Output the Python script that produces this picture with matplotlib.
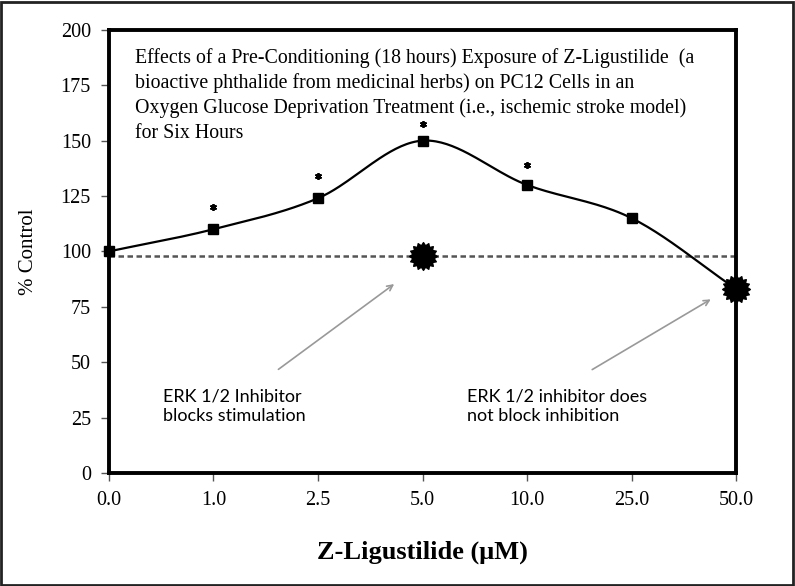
import numpy as np
import matplotlib
matplotlib.use("Agg")
import matplotlib.pyplot as plt
from matplotlib.path import Path

categories = ["0.0", "1.0", "2.5", "5.0", "10.0", "25.0", "50.0"]
control_values = [100, 110, 124, 150, 130, 115, 83]
sig_positions = [1, 2, 3, 4, 6]
sig_values = [120, 134, 157.5, 139, 86]
inhibitor_positions = [3, 6]
inhibitor_values = [98, 83]
baseline = 98
yticks = [0, 25, 50, 75, 100, 125, 150, 175, 200]

title_text = ("Effects of a Pre-Conditioning (18 hours) Exposure of Z-Ligustilide  (a\n"
              "bioactive phthalide from medicinal herbs) on PC12 Cells in an\n"
              "Oxygen Glucose Deprivation Treatment (i.e., ischemic stroke model)\n"
              "for Six Hours")

def catmull_rom(x, y, n=40):
    x = np.asarray(x, float); y = np.asarray(y, float)
    px = np.concatenate([[2*x[0]-x[1]], x, [2*x[-1]-x[-2]]])
    py = np.concatenate([[2*y[0]-y[1]], y, [2*y[-1]-y[-2]]])
    xs, ys = [], []
    t = np.linspace(0, 1, n)
    for i in range(1, len(px)-2):
        p0, p1, p2, p3 = [np.array([px[j], py[j]]) for j in (i-1, i, i+1, i+2)]
        b1 = p1 + (p2 - p0) / 6
        b2 = p2 - (p3 - p1) / 6
        pts = ((1-t)**3)[:, None]*p1 + (3*(1-t)**2*t)[:, None]*b1 + (3*(1-t)*t**2)[:, None]*b2 + (t**3)[:, None]*p2
        xs.append(pts[:, 0]); ys.append(pts[:, 1])
    return np.concatenate(xs), np.concatenate(ys)

# serrated star marker shape
npts = 16
ang = np.linspace(0, 2*np.pi, 2*npts, endpoint=False) + np.pi/2
rad = np.where(np.arange(2*npts) % 2 == 0, 1.0, 0.78)
verts = np.column_stack([rad*np.cos(ang), rad*np.sin(ang)])
verts = np.vstack([verts, verts[:1]])
star = Path(verts, closed=True)

fig = plt.figure(figsize=(7.95, 5.86), dpi=100)
ax = fig.add_axes([0.137, 0.193, 0.789, 0.756])

xpos = np.arange(len(categories))
sx, sy = catmull_rom(xpos, control_values)
ax.plot(sx, sy, color="black", lw=1.6, zorder=3, clip_on=False)
ax.plot(xpos, control_values, "s", color="black", ms=7, zorder=4, clip_on=False)

ax.plot([0, 6], [baseline, baseline], color="#555555", lw=1.8, dashes=(2.2, 1.4), zorder=2, clip_on=False)
ax.plot(inhibitor_positions, inhibitor_values, marker=star, ls="none", color="black",
        ms=20, zorder=5, clip_on=False)

ax.plot(sig_positions, sig_values, marker=(6, 2, 0), ls="none", color="black", ms=5,
        mew=1.3, zorder=6, clip_on=False)

ax.set_xlim(0, 6)
ax.set_ylim(0, 200)
ax.set_xticks(xpos)
ax.set_xticklabels(categories)
ax.set_yticks(yticks)
ax.tick_params(direction="out", length=6, width=1, color="#555555", labelsize=14.5, pad=7)
for lab in ax.get_xticklabels() + ax.get_yticklabels():
    lab.set_family("Liberation Serif")
for s in ax.spines.values():
    s.set_linewidth(2.8)
    s.set_color("black")

ax.text(0.042, 0.96, title_text, transform=ax.transAxes, ha="left", va="top",
        fontsize=14.3, family="Liberation Serif", linespacing=1.38)

ax.set_ylabel("% Control", family="Liberation Serif", fontsize=15, labelpad=16)
ax.set_xlabel("Z-Ligustilide (\u03bcM)", family="Liberation Serif", fontsize=19, fontweight="bold", labelpad=22)

ax.annotate("", xy=(2.75, 86), xytext=(1.6, 46),
            arrowprops=dict(arrowstyle="->", color="#999999", lw=1.2))
ax.text(0.52, 30, "ERK 1/2 Inhibitor\nblocks stimulation", ha="left", va="center",
        fontsize=13, family="Lato", linespacing=1.3)
ax.annotate("", xy=(5.78, 79), xytext=(4.6, 46),
            arrowprops=dict(arrowstyle="->", color="#999999", lw=1.2))
ax.text(3.43, 30, "ERK 1/2 inhibitor does\nnot block inhibition", ha="left", va="center",
        fontsize=13, family="Lato", linespacing=1.3)

border = plt.Rectangle((0.001, 0.002), 0.996, 0.995, transform=fig.transFigure, fill=False,
                       edgecolor="#222222", lw=2)
fig.patches.append(border)

fig.savefig("out.png", dpi=100)
